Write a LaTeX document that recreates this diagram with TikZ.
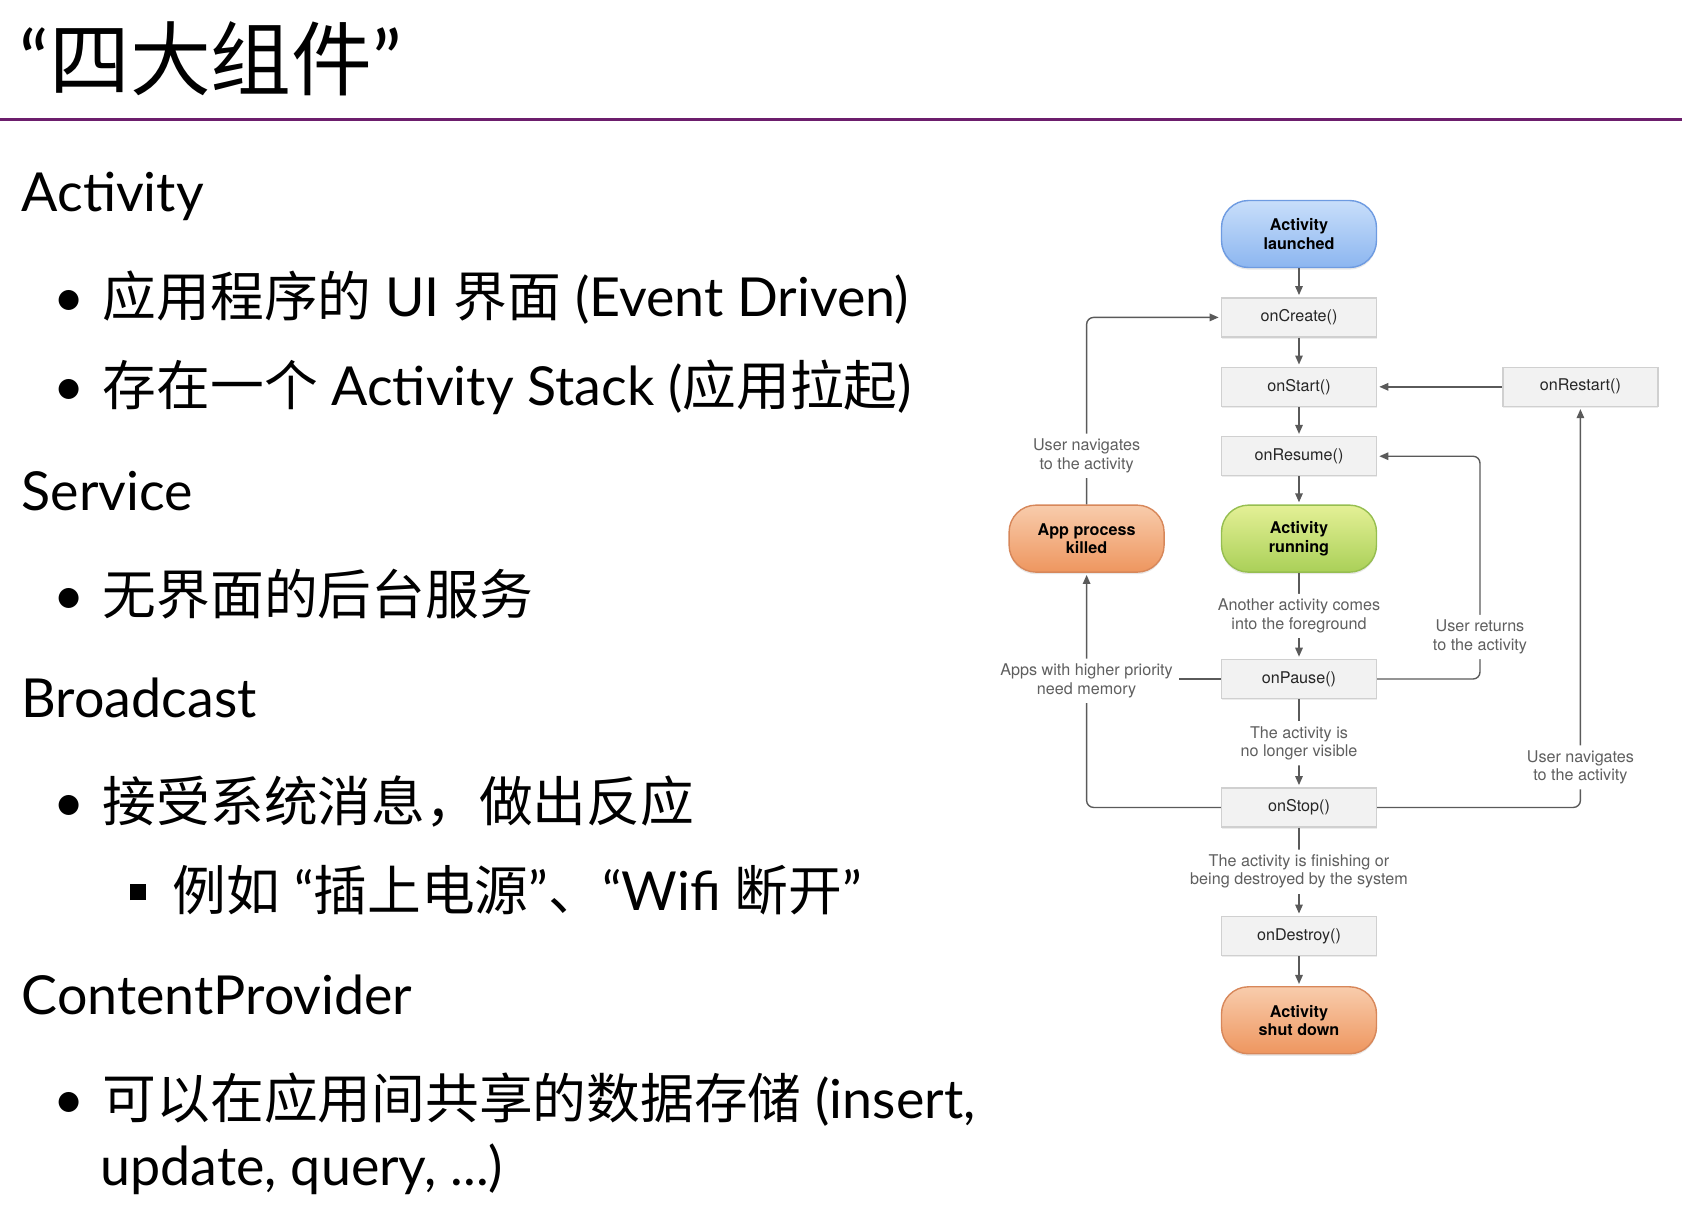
\documentclass[tikz,border=0pt]{standalone}
\usepackage{fontspec}
\setmainfont{Lato}
\newfontfamily\cjk{Noto Sans CJK SC}
\newfontfamily\helv{TeX Gyre Heros}
\usetikzlibrary{positioning,arrows.meta,shadows}

\definecolor{slideline}{RGB}{108,30,108}
\definecolor{boxfill}{RGB}{242,242,242}
\definecolor{boxline}{RGB}{208,208,208}
\definecolor{flowline}{RGB}{90,90,90}
\definecolor{notetext}{RGB}{95,95,95}
\definecolor{blueTop}{RGB}{200,222,250}
\definecolor{blueBot}{RGB}{140,182,240}
\definecolor{blueLine}{RGB}{110,155,225}
\definecolor{greenTop}{RGB}{228,240,150}
\definecolor{greenBot}{RGB}{170,208,88}
\definecolor{greenLine}{RGB}{150,190,80}
\definecolor{orangeTop}{RGB}{248,204,172}
\definecolor{orangeBot}{RGB}{238,150,95}
\definecolor{orangeLine}{RGB}{215,135,90}

\newcommand{\bodyfont}{\fontsize{15.3}{18}\selectfont}
\newcommand{\bul}{\makebox[0.49cm][l]{\textbullet}}
\newcommand{\sqbul}{\makebox[0.43cm][l]{\raisebox{0.10cm}{\rule{0.16cm}{0.16cm}}}}

\begin{document}
\begin{tikzpicture}[
    node distance=0.29cm,
    heading/.style={anchor=base west, inner sep=0pt, font=\bodyfont},
    callback/.style={rectangle, draw=boxline, fill=boxfill, minimum width=1.55cm, minimum height=0.39cm, font=\helv\fontsize{4.6}{5.2}\selectfont, text=black!85, drop shadow={shadow xshift=0pt, shadow yshift=-0.5pt, opacity=0.15}},
    pill/.style={rectangle, rounded corners=0.27cm, minimum width=1.55cm, minimum height=0.67cm, align=center, font=\helv\bfseries\fontsize{4.6}{5.2}\selectfont, drop shadow={shadow xshift=0pt, shadow yshift=-0.6pt, opacity=0.18}},
    note/.style={fill=white, align=center, inner sep=1.5pt, text=notetext, font=\helv\fontsize{4.6}{5.2}\selectfont},
    flow/.style={->, draw=flowline, line width=0.4pt, rounded corners=2pt, >={Triangle[length=0.09cm, width=0.075cm]}, shorten >=0.6pt}
]
\useasboundingbox (0,0) rectangle (16.82,-12.12);

% Slide title
\node[anchor=base west, inner sep=0pt, font=\fontsize{23}{26}\selectfont] (title) at (0.19,-0.89) {“{\cjk 四大组件}”};
\draw[slideline, line width=0.03cm] (0,-1.19) -- (16.82,-1.19);

% Bullet text
\node[heading] (act) at (0.21,-2.11) {Activity};
\node[heading] (actA) at (0.53,-3.16) {\bul{\cjk 应用程序的} UI {\cjk 界面} (Event Driven)};
\node[heading] (actB) at (0.53,-4.05) {\bul{\cjk 存在一个} Activity Stack ({\cjk 应用拉起})};
\node[heading] (svc) at (0.21,-5.10) {Service};
\node[heading] (svcA) at (0.53,-6.14) {\bul{\cjk 无界面的后台服务}};
\node[heading] (bc) at (0.21,-7.17) {Broadcast};
\node[heading] (bcA) at (0.53,-8.21) {\bul{\cjk 接受系统消息，做出反应}};
\node[heading] (bcB) at (1.29,-9.10) {\sqbul{\cjk 例如} “{\cjk 插上电源}”{\cjk 、}“Wifi {\cjk 断开}”};
\node[heading] (cp) at (0.21,-10.14) {ContentProvider};
\node[heading] (cpA) at (0.53,-11.18) {\bul{\cjk 可以在应用间共享的数据存储} (insert,};
\node[heading] (cpB) at (1.00,-11.85) {update, query, ...)};

% Lifecycle states
\node[pill, draw=blueLine, top color=blueTop, bottom color=blueBot] (launch) at (12.99,-2.34) {Activity\\launched};
\node[callback, below=of launch] (create) {onCreate()};
\node[callback, below=of create] (start) {onStart()};
\node[callback, below=of start] (resume) {onResume()};
\node[pill, draw=greenLine, top color=greenTop, bottom color=greenBot, below=0.28cm of resume] (running) {Activity\\running};
\node[callback, below=0.86cm of running] (pause) {onPause()};
\node[callback, below=0.88cm of pause] (stop) {onStop()};
\node[callback, below=0.88cm of stop] (destroy) {onDestroy()};
\node[pill, draw=orangeLine, top color=orangeTop, bottom color=orangeBot, below=0.30cm of destroy] (shutdown) {Activity\\shut down};
\node[pill, draw=orangeLine, top color=orangeTop, bottom color=orangeBot, left=0.56cm of running] (killed) {App process\\killed};
\node[callback, right=1.25cm of start] (restart) {onRestart()};

% Main sequence
\draw[flow] (launch) -- (create);
\draw[flow] (create) -- (start);
\draw[flow] (start) -- (resume);
\draw[flow] (resume) -- (running);
\draw[flow] (running) -- node[note] {Another activity comes\\into the foreground} (pause);
\draw[flow] (pause) -- node[note] {The activity is\\no longer visible} (stop);
\draw[flow] (stop) -- node[note] {The activity is finishing or\\being destroyed by the system} (destroy);
\draw[flow] (destroy) -- (shutdown);

% Loops back
\draw[flow] (restart) -- (start);
\draw[flow] (killed.north) |- node[note, pos=0.13] {User navigates\\to the activity} (create.west);
\draw[flow] (stop.west) -| node[note, pos=0.77] (memory) {Apps with higher priority\\need memory} (killed.south);
\draw[draw=flowline, line width=0.4pt] (pause.west) -- (pause.west -| memory.east);
\coordinate (back) at (14.80,-6.37);
\draw[flow] (pause.east) -| (back) node[note] {User returns\\to the activity} |- (resume.east);
\draw[flow] (stop.east) -| node[note, pos=0.55] {User navigates\\to the activity} (restart.south);

\end{tikzpicture}
\end{document}
